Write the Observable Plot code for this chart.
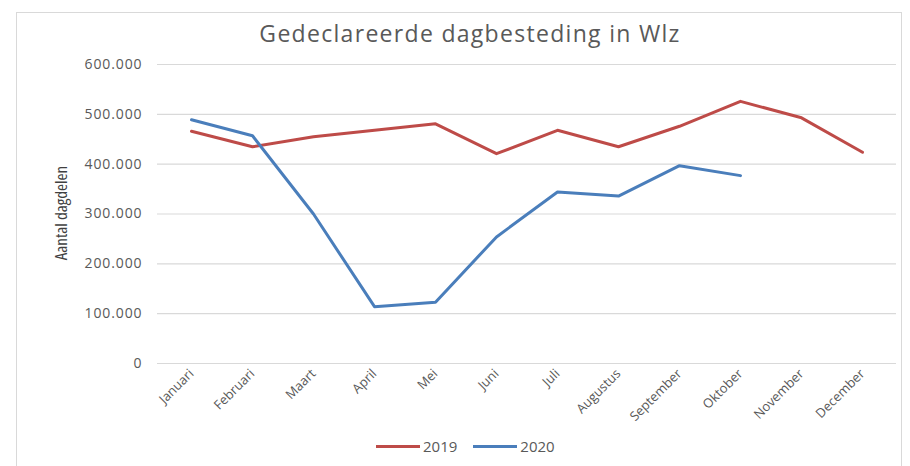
<!DOCTYPE html>
<html>
<head>
<meta charset="utf-8">
<script src="https://cdn.jsdelivr.net/npm/d3@7"></script>
<script src="https://cdn.jsdelivr.net/npm/@observablehq/plot@0.6"></script>
<style>
  html, body { margin: 0; padding: 0; background: #fff; }
  #wrap { position: relative; width: 910px; height: 466px; overflow: hidden; font-family: "Open Sans", sans-serif; }
  #frame { position: absolute; left: 16px; top: 12px; width: 886px; height: 470px; border: 1px solid #d9d9d9; box-sizing: border-box; }
  #title { position: absolute; left: 0; width: 940px; top: 17px; text-align: center; font-size: 23px; letter-spacing: 1.3px; color: #595959; }
  #ytitle { position: absolute; left: 60px; top: 213px; transform: translate(-50%, -50%) rotate(-90deg); white-space: nowrap; font-family: "Liberation Sans Narrow", "Open Sans", sans-serif; font-stretch: condensed; font-size: 17px; color: #404040; }
  #legend { position: absolute; top: 436px; left: 376px; font-size: 15px; color: #595959; display: flex; align-items: center; }
  .sw { display: inline-block; width: 44px; height: 3px; margin-right: 3px; }
  .item { display: flex; align-items: center; margin-right: 16px; }
  #chart { position: absolute; left: 0; top: 0; }
  #chart svg g[aria-label="y-axis tick label"] text { letter-spacing: 0.9px; }
</style>
</head>
<body>
<div id="wrap">
  <div id="frame"></div>
  <div id="chart"></div>
  <div id="title">Gedeclareerde dagbesteding in Wlz</div>
  <div id="ytitle">Aantal dagdelen</div>
  <div id="legend"></div>
</div>
<script>
const months = ["Januari","Februari","Maart","April","Mei","Juni","Juli","Augustus","September","Oktober","November","December"];
const series = ["2019", "2020"];
const values2019 = [466000, 435000, 455000, 468000, 481000, 421000, 468000, 435000, 476000, 526000, 493000, 424000];
const values2020 = [489000, 457000, 300000, 114000, 123000, 254000, 344000, 336000, 397000, 377000, null, null];
const yTicks = [0, 100000, 200000, 300000, 400000, 500000, 600000];
const colors = ["#be4b48", "#4a7ebb"];

const data = [];
months.forEach((m, i) => {
  if (values2019[i] != null) data.push({month: m, year: "2019", value: values2019[i]});
  if (values2020[i] != null) data.push({month: m, year: "2020", value: values2020[i]});
});

const fmt = d => d === 0 ? "0" : d3.format(",")(d).replace(/,/g, ".");

const chart = Plot.plot({
  width: 910,
  height: 466,
  marginLeft: 157,
  marginRight: 14,
  marginTop: 64,
  marginBottom: 103,
  style: {fontFamily: "Open Sans, sans-serif", background: "transparent", overflow: "visible"},
  x: {type: "point", domain: months, padding: 0.5, label: null},
  y: {domain: [0, 600000], label: null},
  color: {domain: series, range: colors},
  marks: [
    Plot.ruleY(yTicks, {stroke: "#d9d9d9", strokeWidth: 1.2}),
    Plot.axisY({ticks: yTicks, tickFormat: fmt, tickSize: 0, tickPadding: 15, fontSize: 14, fill: "#595959", label: null}),
    Plot.axisX({tickSize: 0, tickPadding: 8, tickRotate: -45, fontSize: 13, fill: "#595959", label: null}),
    Plot.line(data, {x: "month", y: "value", z: "year", stroke: "year", strokeWidth: 3, strokeLinejoin: "round", strokeLinecap: "round"})
  ]
});
document.getElementById("chart").appendChild(chart);

const legend = document.getElementById("legend");
series.forEach((s, i) => {
  const item = document.createElement("div");
  item.className = "item";
  const sw = document.createElement("span");
  sw.className = "sw";
  sw.style.background = colors[i];
  const t = document.createElement("span");
  t.textContent = s;
  item.appendChild(sw);
  item.appendChild(t);
  legend.appendChild(item);
});
</script>
</body>
</html>
